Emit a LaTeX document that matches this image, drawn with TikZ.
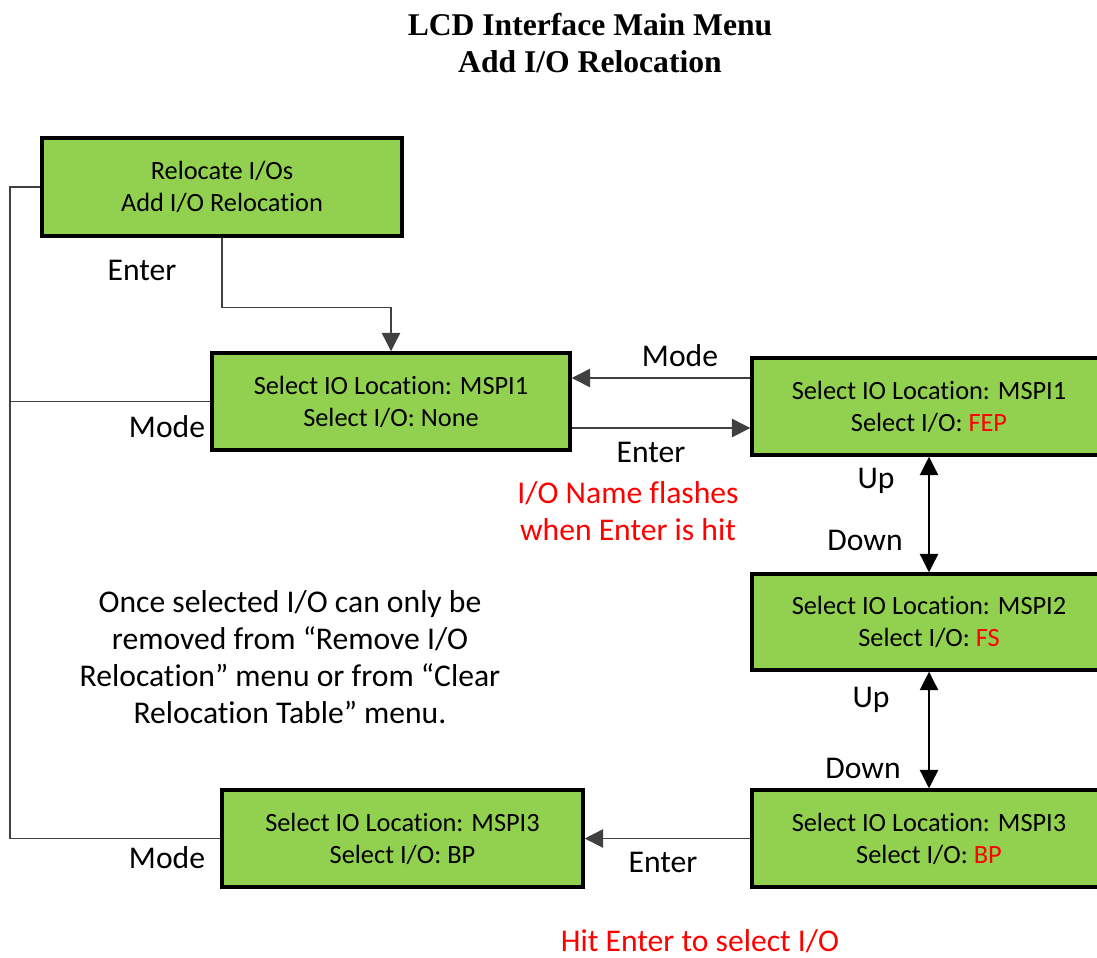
\documentclass[tikz,border=0pt]{standalone}
\usepackage{fontspec}
\setmainfont{Carlito}[Ligatures=NoCommon]
\newfontfamily\titlefont{Liberation Serif}
\usetikzlibrary{arrows.meta}
\definecolor{boxgreen}{HTML}{92D050}
\definecolor{linegray}{HTML}{404040}
\tikzset{
  menubox/.style={draw=black, fill=boxgreen, line width=2pt, inner sep=0pt, align=center,
    font=\fontsize{15}{18.2}\selectfont},
  conn/.style={draw=linegray, line width=0.8pt},
  arr/.style={conn, -{Triangle[length=10.5pt,width=10.5pt]}},
  darr/.style={draw=black, line width=0.7pt, {Triangle[length=10.5pt,width=10.5pt]}-{Triangle[length=10.5pt,width=10.5pt]}},
  lbl/.style={inner sep=0pt, font=\fontsize{18}{21}\selectfont},
  note/.style={inner sep=0pt, align=center, font=\fontsize{18}{21}\selectfont},
}
\begin{document}
\begin{tikzpicture}[x=0.02cm,y=-0.02cm]
\useasboundingbox (0,0) rectangle (1097,957);
% title
\node[inner sep=0pt, align=center, font=\titlefont\bfseries\fontsize{18}{21.6}\selectfont] (title) at (590,43)
  {LCD Interface Main Menu\\Add I/O Relocation};
% boxes
\node[menubox, minimum width=7.2cm, minimum height=1.96cm] (A) at (222,187)
  {Relocate I/Os\\Add I/O Relocation};
\node[menubox, minimum width=7.16cm, minimum height=1.94cm] (B) at (391,401.5)
  {Select IO Location: MSPI1\\Select I/O: None};
\node[menubox, minimum width=7.08cm, minimum height=1.94cm] (C) at (929,406.5)
  {Select IO Location: MSPI1\\Select I/O: \textcolor{red}{FEP}};
\node[menubox, minimum width=7.08cm, minimum height=1.92cm] (D) at (929,622)
  {Select IO Location: MSPI2\\Select I/O: \textcolor{red}{FS}};
\node[menubox, minimum width=7.08cm, minimum height=1.94cm] (E) at (929,838.5)
  {Select IO Location: MSPI3\\Select I/O: \textcolor{red}{BP}};
\node[menubox, minimum width=7.22cm, minimum height=1.94cm] (F) at (402.5,838.5)
  {Select IO Location: MSPI3\\Select I/O: BP};
% connectors
\draw[arr] (A.south) -- ++(0,70) -| (B.north);
\draw[arr] (C.west |- 0,378) -- (B.east |- 0,378);
\draw[arr] (B.east |- 0,428) -- (C.west |- 0,428);
\draw[darr] (C.south) -- (D.north);
\draw[darr] (D.south) -- (E.north);
\draw[arr] (E.west) -- (F.east);
\coordinate (L1) at (10,187);
\coordinate (L2) at (10,838.5);
\draw[conn] (A.west) -- (L1) -- (L2) -- (F.west);
\draw[conn] (B.west) -- (B.west -| L1);
% labels
\node[lbl] (l1) at (142,270) {Enter};
\node[lbl] (l2) at (680,356) {Mode};
\node[lbl] (l3) at (651,452) {Enter};
\node[lbl] (l4) at (167,427) {Mode};
\node[lbl] (l5) at (876,481) {Up};
\node[lbl] (l6) at (865,540) {Down};
\node[lbl] (l7) at (871,700) {Up};
\node[lbl] (l8) at (863,768) {Down};
\node[lbl] (l9) at (663,862) {Enter};
\node[lbl] (l10) at (167,858) {Mode};
\node[note, text=red] (n1) at (628,511) {I/O Name flashes\\when Enter is hit};
\node[note] (n2) at (290,657) {Once selected I/O can only be\\removed from “Remove I/O\\Relocation” menu or from “Clear\\Relocation Table” menu.};
\node[note, text=red] (n3) at (700,941) {Hit Enter to select I/O};
\end{tikzpicture}
\end{document}
